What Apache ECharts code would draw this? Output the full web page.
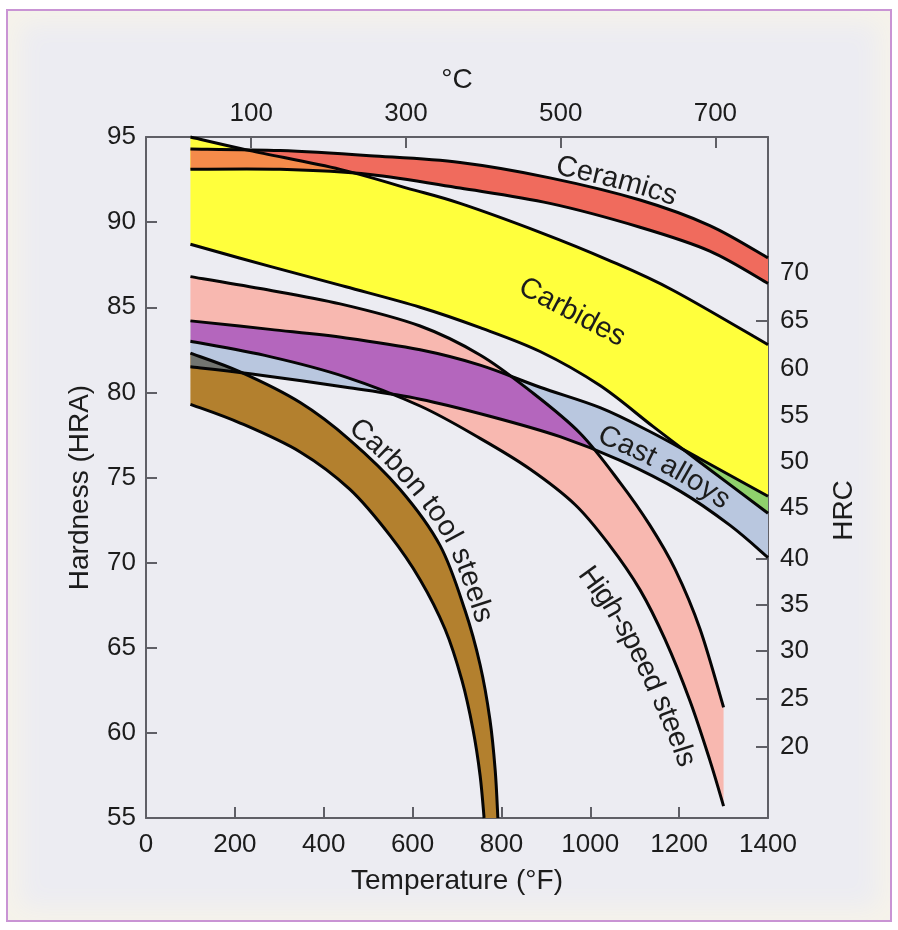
<!DOCTYPE html>
<html>
<head>
<meta charset="utf-8">
<script src="https://cdn.jsdelivr.net/npm/echarts@6/dist/echarts.min.js"></script>
<style>
  html, body { margin: 0; padding: 0; background: #ffffff; }
  #frame {
    position: absolute; left: 6px; top: 9px; width: 886px; height: 913px;
    box-sizing: border-box; border: 2px solid #c994d4;
    background: #ececf2;
    box-shadow: inset 0 0 24px 12px #f6f3ea;
  }
  #chart { position: absolute; left: 0; top: 0; width: 898px; height: 930px; }
</style>
</head>
<body>
<div id="frame"></div>
<div id="chart"></div>
<script>
// Hardness bands: [temperature °F, hardness HRA] along the upper and lower edge of each band
const ceramicsUpper = [[100, 94.3], [302, 94.2], [504, 93.9], [707, 93.5], [909, 92.6], [1112, 91.3], [1269, 89.8], [1400, 87.9]];
const ceramicsLower = [[100, 93.1], [302, 93.1], [504, 92.8], [707, 92.0], [909, 91.1], [1112, 89.7], [1269, 88.3], [1400, 86.4]];

const carbidesUpper = [[100, 95.0], [234, 94.2], [437, 93.1], [587, 92.0], [707, 91.1], [887, 89.4], [1038, 87.8], [1186, 86.0], [1400, 82.8]];
const carbidesLower = [[100, 88.7], [279, 87.4], [450, 86.2], [617, 85.0], [752, 83.8], [887, 82.4], [1022, 80.4], [1141, 78.0], [1247, 75.9], [1400, 72.9]];

const highSpeedUpper = [[100, 86.8], [257, 86.1], [437, 85.2], [617, 83.9], [752, 82.2], [864, 80.1], [977, 77.6], [1067, 74.7], [1134, 72.2], [1191, 69.6], [1247, 66.1], [1300, 61.5]];
const highSpeedLower = [[100, 83.0], [279, 82.1], [450, 80.9], [617, 79.2], [752, 77.3], [864, 75.5], [966, 73.4], [1044, 71.0], [1112, 68.4], [1168, 65.5], [1224, 61.9], [1269, 58.4], [1300, 55.7]];

const castUpper = [[100, 84.2], [279, 83.7], [450, 83.2], [617, 82.5], [752, 81.6], [887, 80.3], [1022, 79.1], [1134, 77.7], [1247, 76.1], [1400, 73.9]];
const castLower = [[100, 81.5], [234, 81.1], [450, 80.3], [617, 79.6], [774, 78.6], [932, 77.4], [1067, 76.0], [1202, 74.2], [1314, 72.2], [1400, 70.3]];

const carbonUpper = [[100, 82.3], [212, 81.2], [347, 79.4], [459, 77.2], [572, 74.3], [662, 71.0], [718, 67.2], [752, 64.0], [774, 60.8], [786, 57.8], [792, 55.0]];
const carbonLower = [[100, 79.3], [212, 78.2], [347, 76.5], [459, 74.3], [549, 71.6], [617, 69.0], [673, 66.1], [711, 63.1], [736, 60.2], [752, 57.5], [761, 55.0]];

// Tick labels
const celsiusTicks = [100, 300, 500, 700];
const celsiusRange = [-36, 768];          // °C at the left and right edge of the top scale
const hrcTicks = [70, 65, 60, 55, 50, 45, 40, 35, 30, 25, 20];
const hrcOnHra = [87.0, 84.2, 81.4, 78.6, 75.9, 73.2, 70.2, 67.5, 64.8, 62.0, 59.2];

const bandNames = ['Ceramics', 'Carbides', 'High-speed steels', 'Cast alloys', 'Carbon tool steels'];

// ---- drawing setup ----
const FONT = '"Liberation Sans", Arial, Helvetica, sans-serif';
const TEXT = '#1c1c1c';
const AXIS = '#5f5f66';
const LABEL_SIZE = 29;

const bands = [
  { upper: ceramicsUpper,  lower: ceramicsLower,  fill: '#f06b5d' },
  { upper: carbidesUpper,  lower: carbidesLower,  fill: '#ffff3c' },
  { upper: highSpeedUpper, lower: highSpeedLower, fill: '#f8b8b0' },
  { upper: castUpper,      lower: castLower,      fill: '#b9c7df' },
  { upper: carbonUpper,    lower: carbonLower,    fill: '#b3802e' }
];

// where two bands overlap the shared region gets its own tint (band b clipped by band a)
const overlaps = [
  { a: 0, b: 1, fill: '#f58b4a' },
  { a: 1, b: 3, fill: '#8fd06c' },
  { a: 2, b: 3, fill: '#b466bd' },
  { a: 3, b: 4, fill: '#727570' }
];

// band names: either set along one of the band's edges (start temperature °F,
// distance in px from the edge at the first and last letter, positive = above),
// or straight at an anchor (°F, HRA) with a clockwise slant in degrees
const labelPath = [
  { edge: 'upper', start: 916,  offset: [13, 13] },
  { at: [959, 84.7], angle: 28 },
  { edge: 'lower', start: 1050, offset: [-36, -23] },
  { edge: 'lower', start: 1004, offset: [16, 16] },
  { edge: 'upper', start: 445,  offset: [14, 15] }
];

function fmt(v) { return v.toFixed(2); }

// Catmull-Rom control points between consecutive pixel points
function segments(pts) {
  const out = [];
  const n = pts.length;
  for (let i = 0; i < n - 1; i++) {
    const p0 = pts[Math.max(i - 1, 0)], p1 = pts[i], p2 = pts[i + 1], p3 = pts[Math.min(i + 2, n - 1)];
    out.push([p1,
      [p1[0] + (p2[0] - p0[0]) / 6, p1[1] + (p2[1] - p0[1]) / 6],
      [p2[0] - (p3[0] - p1[0]) / 6, p2[1] - (p3[1] - p1[1]) / 6],
      p2]);
  }
  return out;
}
function segPath(pts) {
  return segments(pts).map(s =>
    ' C' + fmt(s[1][0]) + ',' + fmt(s[1][1]) + ' ' + fmt(s[2][0]) + ',' + fmt(s[2][1]) + ' ' + fmt(s[3][0]) + ',' + fmt(s[3][1])
  ).join('');
}
function openPath(pts) {
  return 'M' + fmt(pts[0][0]) + ',' + fmt(pts[0][1]) + segPath(pts);
}
function closedBand(up, lo) {
  const r = lo.slice().reverse();
  return 'M' + fmt(up[0][0]) + ',' + fmt(up[0][1]) + segPath(up) +
         ' L' + fmt(r[0][0]) + ',' + fmt(r[0][1]) + segPath(r) + ' Z';
}
// dense polyline following the drawn curve
function sampleCurve(pts) {
  const out = [pts[0]];
  segments(pts).forEach(s => {
    for (let k = 1; k <= 24; k++) {
      const t = k / 24, u = 1 - t;
      const a = u * u * u, b = 3 * u * u * t, c = 3 * u * t * t, d = t * t * t;
      out.push([a * s[0][0] + b * s[1][0] + c * s[2][0] + d * s[3][0],
                a * s[0][1] + b * s[1][1] + c * s[2][1] + d * s[3][1]]);
    }
  });
  return out;
}

const measureCtx = document.createElement('canvas').getContext('2d');

function labelText(ch, x, y, angleRad) {
  return {
    type: 'text', z2: 3, x: x, y: y, rotation: -angleRad,
    style: { text: ch, fontSize: LABEL_SIZE, fontFamily: FONT, fill: TEXT,
             align: 'center', verticalAlign: 'middle' }
  };
}

function curvedText(basePts, text, startX, offsets) {
  const base = sampleCurve(basePts);
  const normals = base.map((p, i) => {
    const a = base[Math.max(i - 1, 0)], b = base[Math.min(i + 1, base.length - 1)];
    const len = Math.hypot(b[0] - a[0], b[1] - a[1]) || 1;
    return [(b[1] - a[1]) / len, -(b[0] - a[0]) / len];
  });
  const cum = [0];
  for (let i = 1; i < base.length; i++) {
    cum.push(cum[i - 1] + Math.hypot(base[i][0] - base[i - 1][0], base[i][1] - base[i - 1][1]));
  }
  let k0 = base.findIndex(p => p[0] >= startX);
  if (k0 < 0) k0 = 0;
  const at = (s, off) => {
    let i = 1;
    while (i < cum.length - 1 && cum[i] < s) i++;
    const f = (s - cum[i - 1]) / ((cum[i] - cum[i - 1]) || 1);
    const nx = normals[i - 1][0] + (normals[i][0] - normals[i - 1][0]) * f;
    const ny = normals[i - 1][1] + (normals[i][1] - normals[i - 1][1]) * f;
    return [base[i - 1][0] + (base[i][0] - base[i - 1][0]) * f + nx * off,
            base[i - 1][1] + (base[i][1] - base[i - 1][1]) * f + ny * off];
  };
  measureCtx.font = LABEL_SIZE + 'px ' + FONT;
  const chars = Array.from(text);
  const widths = chars.map(ch => measureCtx.measureText(ch).width);
  const total = widths.reduce((a, b) => a + b, 0);
  const els = [];
  let s = cum[k0];
  let run = 0;
  chars.forEach((ch, j) => {
    const w = widths[j];
    const f = (run + w / 2) / total;
    const off = offsets[0] + (offsets[1] - offsets[0]) * f;
    const mid = s + w / 2;
    const p = at(mid, off);
    const q0 = at(mid - 5, off), q1 = at(mid + 5, off);
    els.push(labelText(ch, p[0], p[1], Math.atan2(q1[1] - q0[1], q1[0] - q0[0])));
    s += w;
    run += w;
  });
  return els;
}

function renderBand(params, api) {
  const i = params.dataIndex;
  const px = pts => pts.map(p => api.coord(p));
  const shapeOf = k => closedBand(px(bands[k].upper), px(bands[k].lower));
  const band = bands[i];
  const children = [];

  children.push({ type: 'path', z2: 0, shape: { pathData: shapeOf(i) },
                  style: { fill: band.fill, stroke: 'none' } });

  overlaps.filter(o => o.b === i).forEach(o => {
    children.push({ type: 'path', z2: 1, shape: { pathData: shapeOf(i) },
                    style: { fill: o.fill, stroke: 'none' },
                    clipPath: { type: 'path', shape: { pathData: shapeOf(o.a) } } });
  });

  [band.upper, band.lower].forEach(edge => {
    children.push({ type: 'path', z2: 2, shape: { pathData: openPath(px(edge)) },
                    style: { fill: 'none', stroke: '#050505', lineWidth: 3, lineJoin: 'round', lineCap: 'butt' } });
  });

  const lp = labelPath[i];
  if (lp.at) {
    const c = api.coord(lp.at);
    children.push(labelText(bandNames[i], c[0], c[1], lp.angle * Math.PI / 180));
  } else {
    const startX = api.coord([lp.start, 75])[0];
    curvedText(px(band[lp.edge]), bandNames[i], startX, lp.offset).forEach(t => children.push(t));
  }

  return { type: 'group', children };
}

function hrcLabel(v) {
  const k = hrcOnHra.findIndex(h => Math.abs(h - v) < 1e-6);
  return k >= 0 ? String(hrcTicks[k]) : '';
}
const plain = v => String(v);

const axisLine = { show: true, onZero: false, lineStyle: { color: AXIS, width: 2 } };
const tickStyle = { color: AXIS, width: 2 };
const labelStyle = { fontSize: 26, fontFamily: FONT, color: TEXT };
const nameStyle = { fontSize: 28, fontFamily: FONT, color: TEXT };

const chart = echarts.init(document.getElementById('chart'), null, { renderer: 'canvas' });
chart.setOption({
  animation: false,
  backgroundColor: 'transparent',
  grid: { left: 146, right: 130, top: 137, bottom: 112, containLabel: false },
  xAxis: [
    {
      type: 'value', position: 'bottom', min: 0, max: 1400, interval: 200,
      axisLine, splitLine: { show: false },
      axisTick: { inside: true, length: 11, lineStyle: tickStyle },
      axisLabel: Object.assign({ margin: 14, formatter: plain }, labelStyle),
      name: 'Temperature (°F)', nameLocation: 'middle', nameGap: 49, nameTextStyle: nameStyle
    },
    {
      type: 'value', position: 'top', min: celsiusRange[0], max: celsiusRange[1],
      axisLine, splitLine: { show: false },
      axisTick: { inside: true, length: 11, lineStyle: tickStyle, customValues: celsiusTicks },
      axisLabel: Object.assign({ margin: 10, customValues: celsiusTicks, formatter: plain }, labelStyle),
      name: '°C', nameLocation: 'middle', nameGap: 43, nameTextStyle: nameStyle
    }
  ],
  yAxis: [
    {
      type: 'value', position: 'left', min: 55, max: 95, interval: 5,
      axisLine, splitLine: { show: false },
      axisTick: { inside: true, length: 11, lineStyle: tickStyle },
      axisLabel: Object.assign({ margin: 10, formatter: plain }, labelStyle),
      name: 'Hardness (HRA)', nameLocation: 'middle', nameGap: 52, nameRotate: 90,
      nameTextStyle: Object.assign({ padding: [0, 20, 0, 0] }, nameStyle)
    },
    {
      type: 'value', position: 'right', min: 55, max: 95,
      axisLine, splitLine: { show: false },
      axisTick: { inside: true, length: 12, lineStyle: tickStyle, customValues: hrcOnHra },
      axisLabel: Object.assign({ margin: 12, customValues: hrcOnHra, formatter: hrcLabel }, labelStyle),
      name: 'HRC', nameLocation: 'middle', nameGap: 62, nameRotate: 90,
      nameTextStyle: Object.assign({ padding: [0, 66, 0, 0] }, nameStyle)
    }
  ],
  series: [
    {
      type: 'custom', name: 'bands', coordinateSystem: 'cartesian2d',
      xAxisIndex: 0, yAxisIndex: 0, silent: true, clip: false,
      renderItem: renderBand,
      data: bands.map((b, i) => [b.upper[0][0], b.upper[0][1], i])
    }
  ]
});
</script>
</body>
</html>
